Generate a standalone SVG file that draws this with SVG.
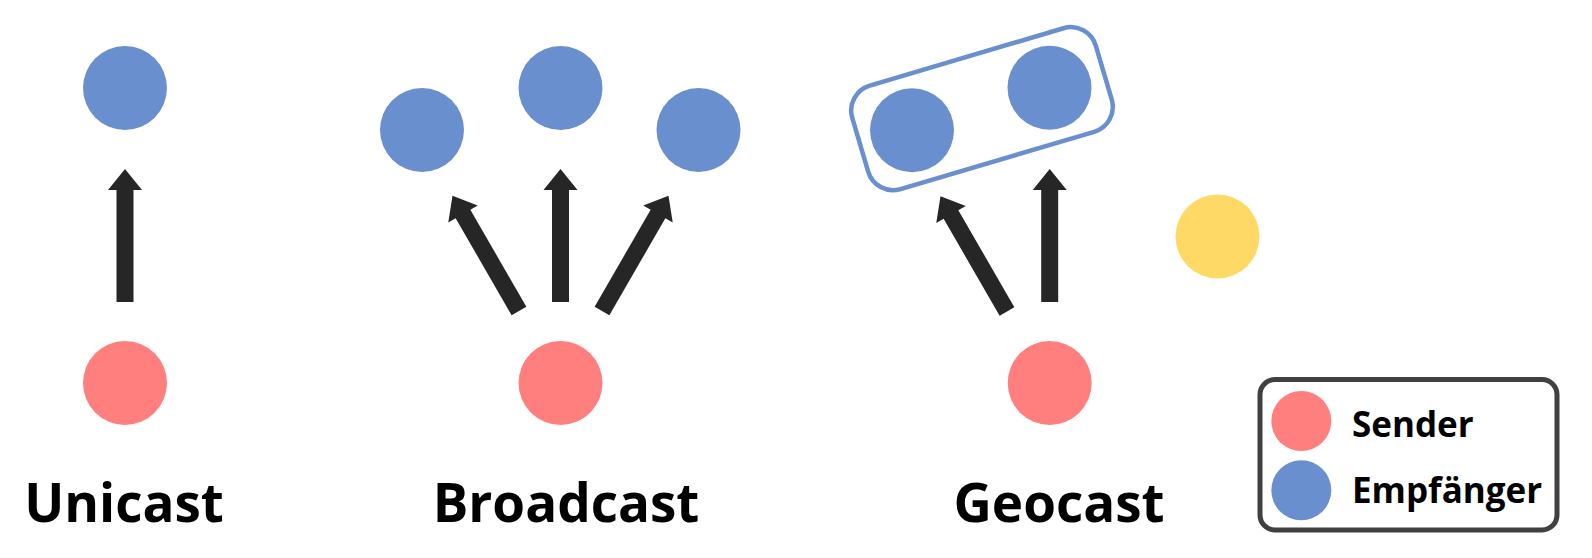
<svg xmlns="http://www.w3.org/2000/svg" width="1592" height="558" viewBox="0 0 1592 558">
<style>
.snd{fill:#FF7F7F}
.rcv{fill:#6A8FCF}
.oth{fill:#FFD966}
.arr{fill:#262626}
.lbl{font-family:"Open Sans",Lato,"Liberation Sans",sans-serif;font-weight:bold;font-size:53px;fill:#000}
.leg{font-family:"Open Sans",Lato,"Liberation Sans",sans-serif;font-weight:bold;font-size:35px;fill:#000}
</style>
<defs>
<path id="arrow" d="M -8.5 0 L -8.5 -112 L -17 -112 L 0 -133 L 17 -112 L 8.5 -112 L 8.5 0 Z"/>
</defs>
<rect width="1592" height="558" fill="#fff"/>
<g id="unicast">
<circle id="u-recv" class="rcv" cx="125" cy="88" r="42"/>
<circle id="u-send" class="snd" cx="125" cy="383" r="42"/>
<text class="lbl" x="124" y="522" text-anchor="middle">Unicast</text>
</g>
<g id="broadcast">
<circle id="b-recv1" class="rcv" cx="422" cy="130" r="42"/>
<circle id="b-recv2" class="rcv" cx="560.5" cy="88" r="42"/>
<circle id="b-recv3" class="rcv" cx="698.5" cy="130" r="42"/>
<circle id="b-send" class="snd" cx="560.5" cy="383" r="42"/>
<text class="lbl" x="566" y="522" text-anchor="middle">Broadcast</text>
</g>
<g id="geocast">
<rect id="g-zone" x="-127" y="-54" width="254" height="108" rx="26" fill="none" stroke="#6A8FCF" stroke-width="4.5" transform="translate(982,108.7) rotate(-16.5)"/>
<circle id="g-recv1" class="rcv" cx="912" cy="130.3" r="42"/>
<circle id="g-recv2" class="rcv" cx="1049.5" cy="87.7" r="42"/>
<circle id="g-other" class="oth" cx="1217.5" cy="236.5" r="42"/>
<circle id="g-send" class="snd" cx="1049.7" cy="383" r="42"/>
<text class="lbl" x="1059" y="522" text-anchor="middle">Geocast</text>
</g>
<g id="connectors">
<use href="#arrow" class="arr" transform="translate(125,302)"/>
<use href="#arrow" class="arr" transform="translate(519,311) rotate(-30)"/>
<use href="#arrow" class="arr" transform="translate(560.5,302)"/>
<use href="#arrow" class="arr" transform="translate(602,311) rotate(30)"/>
<use href="#arrow" class="arr" transform="translate(1007,311.5) rotate(-30)"/>
<use href="#arrow" class="arr" transform="translate(1049.7,302)"/>
</g>
<g id="legend">
<rect x="1260" y="379.5" width="297" height="150.5" rx="15" fill="#fff" stroke="#404040" stroke-width="5"/>
<circle class="snd" cx="1301.3" cy="421" r="30"/>
<circle class="rcv" cx="1301.3" cy="490.3" r="30"/>
<text class="leg" x="1352" y="436.5">Sender</text>
<text class="leg" x="1352" y="502.5">Empfänger</text>
</g>
</svg>
